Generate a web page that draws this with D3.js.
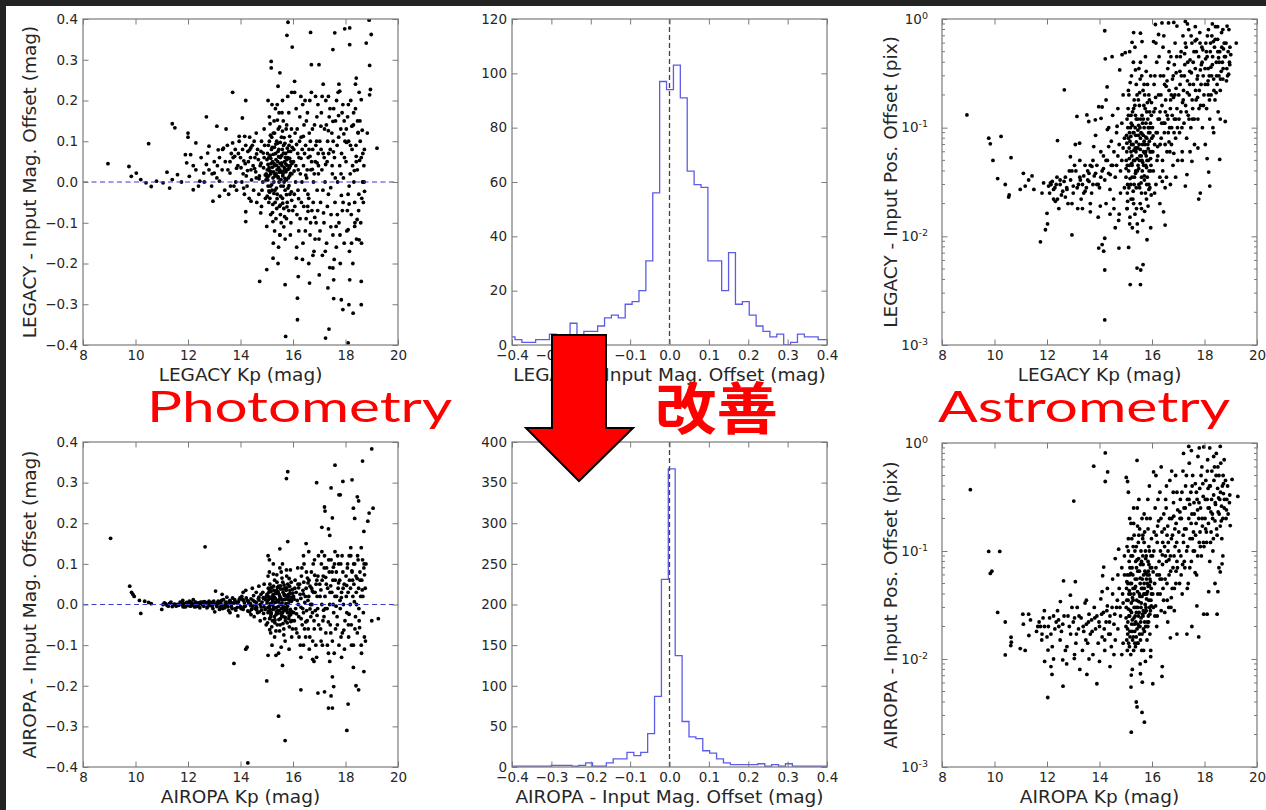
<!DOCTYPE html>
<html><head><meta charset="utf-8">
<script src="https://cdn.jsdelivr.net/npm/d3@7"></script>
<style>body{margin:0;background:#fff;overflow:hidden}svg{display:block}</style>
</head><body>
<script>
// ---------------- DATA ----------------
const kpTicks=[8,10,12,14,16,18,20];
const magTicks=[-0.4,-0.3,-0.2,-0.1,0,0.1,0.2,0.3,0.4];
const legacyCountTicks=[0,20,40,60,80,100,120];
const airopaCountTicks=[0,50,100,150,200,250,300,350,400];
const posTicks=[0.001,0.01,0.1,1];
const histBinWidth=0.0175;
const legacyHistStart=-0.41;
const airopaHistStart=-0.4055;
const legacyHistCounts=[3,2,1,1,2,2,4,3,2,8,1,5,5,7,10,11,10,15,16,20,31,56,97,94,103,91,64,59,58,31,31,20,34,15,16,11,7,5,3,4,0,1,4,3,3,2,2];
const airopaHistCounts=[1,1,1,1,1,1,2,2,2,1,2,5,1,1,5,10,10,18,14,18,41,87,231,367,137,56,37,35,20,17,10,5,3,3,3,3,4,1,3,1,4,1,1,1,1,1,1];
const redLabels=["Photometry","改善","Astrometry"];

const legacyMagPts=[
[8.95,0.045],[9.75,0.038],[9.84,0.014],[10.03,0.022],[10.2,0.006],[10.4,-0.002],[10.6,-0.011],[10.5,0.094],[10.8,0.002],[11.05,-0.002],[11.2,0.024],[11.4,0.143],[11.5,0.133],[11.3,-0.015],[11.4,0.006],[11.6,0.018],[11.75,0],[11.9,0.067],[12.0,0.12],[12.0,0.11],[11.95,0.047],[12.1,0.067],[12.05,0.014],[12.2,-0.019],[12.3,0.096],[12.3,0.03],[12.45,0.002],[12.6,0.022],[12.7,0.16],[12.7,0.043],[12.75,0.071],[12.8,0.088],[12.95,-0.047],[13.0,0.022],[13.1,0.137],[13.15,0.079],[13.2,0.002],[13.2,-0.035],[13.35,0.083],[13.45,0.13],[13.6,0.022],[13.7,0.22],[13.7,0.096],[13.78,0.063],[13.85,0.034],[13.95,0.112],[14.07,0.157],[14.16,0.112],[14.2,0.2],[14.2,-0.073],[14.2,-0.097],[14.35,0.079],[14.4,-0.047],[14.73,-0.244],[14.77,-0.076],[15.0,-0.215],[15.0,-0.109],[15.17,0.296],[15.17,0.28],[15.24,-0.187],[15.43,-0.2],[15.43,0.235],[15.5,0.268],[15.5,-0.13],[15.7,-0.252],[15.72,-0.379],[15.77,0.36],[15.81,0.392],[15.97,0.331],[16.06,0.247],[16.13,-0.187],[16.17,-0.285],[16.17,-0.338],[16.2,-0.232],[16.67,0.367],[16.6,-0.2],[16.63,-0.248],[16.7,0.288],[16.99,0.288],[17.0,-0.228],[17.24,-0.383],[17.33,-0.26],[17.37,-0.361],[17.52,0.149],[17.59,0.366],[17.52,0.325],[17.52,-0.211],[17.55,-0.286],[17.78,0.223],[17.84,-0.289],[17.9,-0.313],[17.97,0.376],[18.16,0.378],[18.16,0.337],[18.1,-0.395],[18.13,-0.301],[18.16,-0.24],[18.29,-0.322],[18.41,0.255],[18.41,0.063],[18.48,0.122],[18.6,-0.301],[18.6,-0.244],[18.6,0.202],[18.79,0.341],[18.9,0.397],[18.92,0.214],[18.98,0.362],[18.92,0.286],[18.83,0.12],[18.95,0.227],[19.2,0.083],[18.52,-0.142],[18.35,-0.109],[18.1,-0.117],
[15.02,0.03],[15.05,-0.01],[15.08,0.06],[15.1,0.1],[15.12,-0.04],[15.15,0.02],[15.18,0.08],[15.2,-0.02],[15.22,0.05],[15.25,0.12],[15.27,0.0],[15.3,0.04],[15.32,-0.05],[15.34,0.07],[15.36,0.02],[15.38,0.1],[15.4,-0.03],[15.42,0.05],[15.44,0.01],[15.46,0.08],[15.48,-0.06],[15.5,0.03],[15.52,0.06],[15.54,-0.01],[15.56,0.11],[15.58,0.04],[15.6,-0.04],[15.62,0.02],[15.64,0.09],[15.66,0.0],[15.68,0.05],[15.7,-0.02],[15.72,0.07],[15.74,0.13],[15.76,0.03],[15.78,-0.05],[15.8,0.06],[15.82,0.01],[15.85,0.09],[15.88,-0.03],[15.9,0.04],[15.93,0.1],[15.96,0.02],[15.99,-0.07],
[15.03,0.07],[15.07,0.015],[15.11,-0.025],[15.16,0.045],[15.19,0.11],[15.23,-0.055],[15.26,0.025],[15.29,0.085],[15.33,0.015],[15.37,-0.015],[15.41,0.095],[15.45,0.035],[15.49,0.135],[15.53,-0.035],[15.57,0.065],[15.61,0.015],[15.65,-0.065],[15.69,0.095],[15.73,0.025],[15.77,0.055],[15.81,-0.015],[15.86,0.035],[15.91,0.075],[15.95,-0.045],
[15.15,-0.08],[15.28,0.15],[15.35,-0.09],[15.47,0.17],[15.55,-0.1],[15.63,0.15],[15.75,-0.09],[15.84,0.17],[15.92,-0.1],[15.2,0.19],[15.4,0.19],[15.6,0.2],[15.3,-0.12],[15.5,-0.13],[15.7,-0.14],
[15.01,0.055],[15.04,0.005],[15.06,0.09],[15.09,0.035],[15.13,0.065],[15.14,-0.01],[15.17,0.025],[15.21,0.085],[15.24,0.01],[15.28,0.045],[15.31,-0.02],[15.35,0.055],[15.39,0.03],[15.43,0.075],[15.47,0.0],[15.51,0.045],[15.55,0.025],[15.59,0.08],[15.63,-0.01],[15.67,0.035],[15.71,0.06],[15.75,0.005],[15.79,0.04],[15.83,0.075],[15.87,0.015],[15.92,0.05],[15.97,0.085],
[15.02,-0.035],[15.08,-0.05],[15.14,0.115],[15.22,-0.075],[15.3,0.12],[15.38,-0.065],[15.44,0.13],[15.52,-0.08],[15.6,0.125],[15.68,-0.085],[15.76,0.14],[15.84,-0.07],[15.94,0.13],
[15.1,0.16],[15.33,0.18],[15.58,0.17],[15.8,0.21],[15.25,-0.15],[15.45,-0.16],[15.65,-0.11],[15.9,-0.13],[15.05,0.2],[15.95,0.22],
[15.013,0.012],[15.047,0.043],[15.083,-0.022],[15.118,0.027],[15.152,0.058],[15.187,-0.007],[15.213,0.036],[15.248,0.068],[15.274,-0.028],[15.309,0.019],[15.343,0.093],[15.368,0.041],[15.394,-0.041],[15.427,0.013],[15.453,0.062],[15.486,0.024],[15.517,0.097],[15.542,0.006],[15.573,0.047],[15.608,-0.052],[15.636,0.071],[15.661,0.028],[15.694,0.009],[15.727,0.044],[15.752,-0.031],[15.784,0.083],[15.816,0.031],[15.847,-0.009],[15.873,0.058],[15.906,0.021],[15.938,-0.024],[15.967,0.046],[15.126,0.143],[15.407,0.152],[15.661,0.109],[15.873,0.112],[15.234,-0.097],[15.512,-0.057],[15.769,-0.061],
[14.0,0.06],[14.1,0.02],[14.2,0.09],[14.25,-0.01],[14.3,0.05],[14.4,0.03],[14.45,0.09],[14.5,-0.02],[14.55,0.06],[14.6,0.01],[14.65,0.08],[14.7,-0.03],[14.75,0.04],[14.8,0.1],[14.85,0.0],[14.9,0.06],[14.95,-0.04],[14.98,0.02],[14.15,-0.03],[14.35,0.11],[14.6,0.12],[14.8,-0.06],[14.9,0.13],[13.9,0.04],[13.8,0.08],[13.75,-0.01],[13.6,0.05],[13.5,0.09],[13.4,-0.02],[13.3,0.03],[13.2,0.06],[13.1,0.01],[13.0,0.05],[12.9,-0.01],[12.8,0.03],[12.5,0.06],[12.4,-0.01],[13.55,-0.03],[13.65,0.07],[13.85,-0.02],[14.05,0.0],[13.95,0.1],
[14.02,0.035],[14.08,0.08],[14.12,-0.015],[14.18,0.045],[14.22,0.015],[14.28,0.075],[14.33,-0.04],[14.38,0.06],[14.42,0.005],[14.48,0.04],[14.52,0.1],[14.58,0.025],[14.62,-0.05],[14.68,0.055],[14.72,0.015],[14.78,0.075],[14.82,-0.02],[14.88,0.035],[14.92,0.09],[14.97,0.005],[13.52,0.03],[13.62,-0.01],[13.72,0.06],[13.82,0.0],[13.92,0.07],[13.42,0.05],[13.32,0.08],[13.12,0.04],[12.92,0.02],[12.62,0.0],[12.2,0.04],
[14.537,0.033],[14.613,0.069],[14.706,0.008],[14.784,0.046],[14.867,0.071],[14.943,0.017],[14.127,0.052],[14.268,0.028],[14.394,0.084],
[16.02,0.05],[16.05,-0.03],[16.08,0.12],[16.1,0.0],[16.12,0.18],[16.15,-0.08],[16.18,0.07],[16.2,0.03],[16.22,-0.12],[16.25,0.1],[16.28,0.02],[16.3,0.21],[16.32,-0.05],[16.35,0.08],[16.38,-0.15],[16.4,0.04],[16.42,0.14],[16.45,-0.02],[16.48,0.09],[16.5,-0.09],[16.52,0.01],[16.55,0.17],[16.58,0.06],[16.6,-0.04],[16.62,0.12],[16.65,-0.13],[16.68,0.03],[16.7,0.22],[16.72,-0.07],[16.75,0.08],[16.78,0.0],[16.8,-0.17],[16.82,0.14],[16.85,0.05],[16.88,-0.1],[16.9,0.1],[16.92,-0.02],[16.95,0.19],[16.97,0.02],[16.99,-0.14],[16.06,0.22],[16.14,-0.16],[16.26,0.16],[16.36,-0.19],[16.46,0.2],[16.56,-0.06],[16.66,0.1],[16.76,-0.18],[16.86,0.21],[16.96,0.07],
[16.03,0.08],[16.07,-0.06],[16.11,0.04],[16.16,0.13],[16.19,-0.02],[16.23,0.06],[16.27,-0.09],[16.31,0.11],[16.34,0.0],[16.37,0.19],[16.41,-0.06],[16.44,0.07],[16.47,-0.12],[16.51,0.15],[16.54,0.03],[16.57,-0.03],[16.61,0.08],[16.64,0.2],[16.67,-0.1],[16.71,0.05],[16.74,0.13],[16.77,-0.05],[16.81,0.02],[16.84,-0.14],[16.87,0.09],[16.91,0.16],[16.94,-0.07],[16.97,0.04],
[16.043,0.027],[16.137,0.092],[16.214,-0.041],[16.306,0.058],[16.393,0.112],[16.487,0.017],[16.573,-0.072],[16.648,0.063],[16.736,0.031],[16.829,-0.087],[16.917,0.047],
[17.02,0.1],[17.05,-0.05],[17.08,0.17],[17.1,0.03],[17.12,-0.18],[17.15,0.07],[17.18,-0.1],[17.2,0.13],[17.22,0.0],[17.25,0.2],[17.28,-0.15],[17.3,0.05],[17.32,0.1],[17.35,-0.03],[17.38,0.16],[17.4,-0.21],[17.42,0.08],[17.45,-0.08],[17.48,0.12],[17.5,0.02],[17.52,-0.13],[17.55,0.18],[17.58,0.06],[17.6,-0.05],[17.62,0.15],[17.65,-0.16],[17.68,0.09],[17.7,0.0],[17.72,0.22],[17.75,-0.1],[17.78,0.04],[17.8,-0.2],[17.82,0.13],[17.85,0.07],[17.88,-0.07],[17.9,0.19],[17.92,0.01],[17.95,-0.15],[17.98,0.1],[17.15,0.24],[17.35,0.21],[17.55,-0.24],[17.75,0.24],[17.95,0.15],
[17.03,-0.12],[17.07,0.08],[17.11,0.21],[17.14,-0.02],[17.19,0.06],[17.23,-0.17],[17.27,0.14],[17.31,-0.06],[17.36,0.07],[17.41,0.18],[17.44,-0.11],[17.49,0.04],[17.53,0.1],[17.57,-0.19],[17.61,0.01],[17.66,0.2],[17.69,-0.08],[17.74,0.11],[17.79,-0.13],[17.83,0.02],[17.87,0.17],[17.91,-0.05],[17.96,0.06],
[17.063,0.137],[17.164,-0.076],[17.243,0.043],[17.346,0.126],[17.437,-0.014],[17.538,0.074],[17.643,-0.109],[17.736,0.163],[17.843,-0.033],[17.937,0.118],
[18.02,0.05],[18.05,-0.12],[18.08,0.16],[18.1,-0.03],[18.12,0.1],[18.15,-0.17],[18.18,0.02],[18.2,0.2],[18.22,-0.08],[18.25,0.08],[18.28,-0.2],[18.3,0.14],[18.32,0.0],[18.35,-0.05],[18.38,0.18],[18.4,0.09],[18.42,-0.14],[18.45,0.03],[18.48,0.12],[18.5,-0.07],[18.55,0.15],[18.58,-0.1],[18.6,0.06],[18.62,-0.04],[18.65,0.0],[18.68,-0.05],[18.7,0.04],[18.72,0.08],[18.38,0.24],[18.52,0.22],
[18.03,0.13],[18.07,-0.07],[18.11,0.19],[18.14,-0.01],[18.19,0.09],[18.23,-0.15],[18.27,0.04],[18.31,0.17],[18.36,-0.1],[18.41,0.05],[18.46,0.15],[18.51,-0.03],[18.56,0.1],[18.61,-0.15],[18.66,0.07],[18.71,0.0],
[18.043,0.097],[18.137,-0.054],[18.243,0.137],[18.337,0.028],[18.443,-0.092],[18.536,0.053],[18.637,0.127],[18.724,-0.023]
];

const airopaMagPts=[
[9.05,0.163],[9.78,0.045],[9.85,0.03],[9.9,0.025],[9.95,0.02],[10.2,-0.022],[10.15,0.01],[10.35,0.008],[10.6,0.002],[10.5,0.005],[11.0,-0.012],[11.05,0.0],[11.1,0.004],[11.2,-0.002],[11.3,0.003],[11.4,-0.005],[11.5,0.001],[11.6,0.0],[11.7,0.006],[11.8,-0.003],[11.85,0.002],[11.9,-0.006],[11.95,0.005],[12.0,0.0],[12.05,0.008],[12.1,-0.004],[12.15,0.003],[12.2,0.0],[12.25,-0.006],[12.3,0.005],[12.35,-0.002],[12.4,0.004],[12.45,-0.008],[12.5,0.002],[12.55,0.006],[12.6,-0.004],[12.65,0.142],[12.7,0.003],[12.75,-0.006],[12.8,0.008],[12.85,-0.002],[12.9,0.005],[12.95,-0.01],[13.0,0.002],[13.05,0.033],[13.1,-0.005],[13.15,0.008],[13.2,-0.012],[13.25,0.004],[13.3,-0.002],[13.35,0.012],[13.4,-0.008],[13.45,0.006],[13.5,0.0],[13.55,-0.015],[13.6,0.01],[13.65,-0.004],[13.7,0.016],[13.75,-0.145],[13.8,-0.01],[13.85,0.006],[13.9,-0.028],[13.95,0.012],[14.0,-0.005],[14.05,0.02],[14.1,-0.012],[14.15,0.004],[14.2,-0.11],[14.25,-0.105],[14.28,-0.39],[14.3,0.008],[14.35,-0.018],[14.4,0.014],[14.45,-0.004],[14.5,0.022],[14.55,-0.01],[14.6,0.005],[14.65,-0.02],[14.7,0.018],[14.75,0.0],[14.8,-0.014],[14.85,0.03],[14.9,-0.006],[14.95,0.012],[14.1,0.03],[13.3,0.025],[12.2,0.012],[11.8,0.01],[13.6,-0.02],[14.6,0.03],[14.4,-0.025],
[11.55,-0.004],[11.75,0.003],[12.12,0.006],[12.38,-0.004],[12.62,0.007],[12.88,0.001],[13.12,0.004],[13.38,-0.003],[13.62,0.005],[13.88,-0.007],[14.12,0.01],[14.38,0.002],[14.62,-0.008],[14.88,0.015],[13.02,-0.018],[13.48,0.018],[13.98,0.016],[14.52,-0.03],[14.78,0.025],[14.92,-0.035],
[11.15,0.002],[11.25,-0.004],[11.35,0.006],[11.45,0.0],[11.65,-0.002],[11.72,0.004],[11.82,-0.006],[11.92,0.003],[12.02,-0.003],[12.08,0.004],[12.18,-0.002],[12.28,0.006],[12.32,-0.005],[12.42,0.002],[12.48,0.006],[12.58,-0.002],[12.68,0.005],[12.72,-0.008],[12.82,0.004],[12.92,-0.004],[12.98,0.008],[13.08,0.0],[13.18,0.006],[13.22,-0.006],[13.28,0.01],[13.32,-0.01],[13.42,0.004],[13.52,-0.006],[13.58,0.008],[13.68,-0.01],[13.72,0.004],[13.78,0.012],[13.82,-0.014],[13.92,0.006],[14.02,-0.01],[14.08,0.012],[14.18,-0.004],[14.22,0.016],[14.28,-0.016],[14.32,0.002],[14.42,-0.012],[14.48,0.01],[14.58,-0.002],[14.68,0.014],[14.72,-0.018],[14.82,0.006],[14.88,-0.022],[14.98,0.02],[14.45,0.04],[14.7,0.045],[14.9,0.05],[14.98,-0.05],[14.2,0.035],[14.75,-0.04],
[14.537,0.007],[14.613,-0.013],[14.706,0.011],[14.784,-0.006],[14.867,0.017],[14.943,-0.012],[14.127,-0.006],[14.268,0.009],[14.394,-0.003],[13.764,0.004],[13.447,-0.003],[13.156,0.002],[12.834,-0.001],[12.537,0.001],[12.243,-0.001],[11.964,0.002],
[15.05,0.12],[15.1,0.11],[15.05,-0.125],[15.0,-0.188],[15.35,-0.125],[15.45,-0.275],[15.5,0.137],[15.6,-0.15],[15.7,-0.335],[15.75,0.31],[15.8,0.327],[15.8,0.155],[15.55,-0.105],[15.25,0.1],
[16.3,-0.21],[16.4,0.12],[16.5,0.15],[16.75,-0.135],[16.9,0.3],[16.95,-0.218],[17.2,-0.215],[17.1,0.19],[17.2,0.24],[17.22,0.23],[17.35,0.186],[17.4,0.17],[17.35,-0.255],[17.5,-0.255],[17.45,-0.225],[17.5,-0.178],[17.55,-0.202],[17.5,0.213],[17.45,0.287],[17.6,0.343],[17.8,0.27],[17.75,0.27],[17.9,0.303],[18.05,-0.31],[18.1,-0.245],[18.25,0.307],[18.3,0.237],[18.35,0.212],[18.45,0.265],[18.5,0.255],[18.65,0.353],[18.7,0.18],[18.85,0.205],[18.9,0.225],[19.05,0.237],[19.0,0.383],[18.4,-0.2],[18.5,-0.21],[18.7,-0.165],[19.0,-0.04],[19.25,-0.035],[18.3,-0.155],
[15.02,0.01],[15.05,-0.02],[15.08,0.03],[15.1,-0.005],[15.12,0.05],[15.15,-0.03],[15.18,0.015],[15.2,0.0],[15.22,-0.04],[15.25,0.025],[15.28,-0.01],[15.3,0.06],[15.32,0.005],[15.35,-0.025],[15.38,0.035],[15.4,-0.05],[15.42,0.01],[15.45,0.045],[15.48,-0.015],[15.5,0.02],[15.52,-0.035],[15.55,0.0],[15.58,0.065],[15.6,-0.02],[15.62,0.03],[15.65,-0.06],[15.68,0.012],[15.7,0.04],[15.72,-0.008],[15.75,0.022],[15.78,-0.045],[15.8,0.05],[15.82,0.003],[15.85,-0.028],[15.88,0.035],[15.9,-0.012],[15.93,0.018],[15.96,-0.04],[15.99,0.028],
[15.03,-0.045],[15.06,0.04],[15.09,0.018],[15.13,-0.012],[15.16,0.032],[15.19,-0.055],[15.23,0.008],[15.26,0.045],[15.29,-0.03],[15.33,0.015],[15.36,-0.008],[15.39,0.055],[15.43,-0.022],[15.46,0.006],[15.49,-0.065],[15.53,0.038],[15.56,-0.01],[15.59,0.012],[15.63,-0.03],[15.66,0.048],[15.69,-0.015],[15.73,0.002],[15.76,0.07],[15.79,-0.02],[15.83,0.025],[15.86,-0.055],[15.89,0.01],[15.93,0.055],[15.97,-0.018],
[15.01,0.025],[15.04,-0.008],[15.07,0.012],[15.11,-0.035],[15.14,0.04],[15.17,-0.02],[15.21,0.02],[15.24,-0.012],[15.27,0.035],[15.31,-0.045],[15.34,0.028],[15.37,-0.018],[15.41,0.042],[15.44,-0.005],[15.47,0.025],[15.51,-0.05],[15.54,0.015],[15.57,-0.028],[15.61,0.055],[15.64,-0.006],[15.67,0.025],[15.71,-0.04],[15.74,0.035],[15.77,-0.012],[15.81,0.02],[15.84,-0.035],[15.87,0.045],[15.91,-0.025],[15.94,0.008],[15.98,-0.06],
[15.014,0.004],[15.043,0.021],[15.072,-0.017],[15.103,0.033],[15.137,0.002],[15.164,-0.024],[15.193,0.042],[15.227,0.011],[15.256,-0.006],[15.284,0.018],[15.313,-0.038],[15.347,0.027],[15.372,0.007],[15.404,-0.016],[15.436,0.031],[15.463,-0.037],[15.494,0.013],[15.527,0.046],[15.553,-0.022],[15.584,0.004],[15.617,0.038],[15.646,-0.013],[15.673,0.022],[15.706,-0.032],[15.733,0.014],[15.763,0.041],[15.792,-0.004],[15.824,0.012],[15.856,-0.019],[15.884,0.027],[15.917,-0.042],[15.946,0.016],[15.974,0.037],[15.113,-0.062],[15.383,0.073],[15.617,-0.047],[15.853,0.064],
[15.05,0.07],[15.15,-0.07],[15.25,0.075],[15.35,-0.065],[15.55,0.08],[15.65,-0.075],[15.75,0.085],[15.95,-0.08],
[15.1,0.08],[15.3,-0.08],[15.5,0.09],[15.7,-0.09],[15.9,0.085],[15.2,-0.1],[15.45,-0.12],[15.6,0.1],[15.85,-0.11],
[16.02,0.02],[16.05,-0.04],[16.08,0.06],[16.1,-0.01],[16.12,0.03],[16.15,-0.07],[16.18,0.09],[16.2,0.0],[16.22,-0.03],[16.25,0.05],[16.28,-0.1],[16.3,0.015],[16.32,0.07],[16.35,-0.05],[16.38,0.035],[16.4,-0.02],[16.42,0.1],[16.45,0.005],[16.48,-0.08],[16.5,0.04],[16.52,-0.015],[16.55,0.065],[16.58,-0.06],[16.6,0.02],[16.62,-0.11],[16.65,0.045],[16.68,-0.03],[16.7,0.08],[16.72,0.0],[16.75,-0.09],[16.78,0.03],[16.8,-0.04],[16.82,0.11],[16.85,-0.015],[16.88,0.05],[16.9,-0.13],[16.92,0.02],[16.95,0.07],[16.98,-0.05],[16.3,-0.13],[16.6,0.13],[16.8,-0.14],[16.4,-0.1],
[16.03,-0.02],[16.07,0.04],[16.11,-0.06],[16.16,0.01],[16.19,0.05],[16.23,-0.08],[16.27,0.025],[16.31,-0.035],[16.34,0.09],[16.37,-0.01],[16.41,0.055],[16.44,-0.06],[16.47,0.02],[16.51,0.08],[16.54,-0.04],[16.57,0.01],[16.61,0.06],[16.64,-0.08],[16.67,0.0],[16.71,0.04],[16.74,-0.02],[16.77,0.1],[16.81,-0.06],[16.84,0.03],[16.87,-0.1],[16.91,0.06],[16.94,-0.01],[16.97,0.12],
[16.043,0.013],[16.137,-0.023],[16.214,0.041],[16.306,-0.007],[16.393,0.026],[16.487,-0.043],[16.573,0.053],[16.648,-0.011],[16.736,0.033],[16.829,0.072],[16.917,-0.027],
[17.02,0.05],[17.05,-0.06],[17.08,0.1],[17.1,0.0],[17.12,-0.1],[17.15,0.07],[17.18,-0.03],[17.2,0.12],[17.22,0.02],[17.25,-0.07],[17.28,0.09],[17.3,-0.01],[17.32,0.04],[17.35,-0.12],[17.38,0.08],[17.4,0.0],[17.42,-0.05],[17.45,0.11],[17.48,0.03],[17.5,-0.09],[17.52,0.06],[17.55,-0.02],[17.58,0.1],[17.6,0.02],[17.62,-0.06],[17.65,0.08],[17.68,-0.03],[17.7,0.12],[17.72,0.04],[17.75,-0.1],[17.78,0.06],[17.8,-0.01],[17.82,0.1],[17.85,0.03],[17.88,-0.07],[17.9,0.08],[17.92,0.0],[17.95,0.05],[17.98,-0.04],[17.1,0.13],[17.4,-0.14],[17.6,0.13],[17.85,-0.13],
[17.03,0.02],[17.07,-0.09],[17.11,0.06],[17.14,-0.04],[17.19,0.09],[17.23,-0.01],[17.27,0.05],[17.31,-0.1],[17.36,0.11],[17.41,0.03],[17.44,-0.07],[17.49,0.08],[17.53,0.0],[17.57,-0.12],[17.61,0.06],[17.66,0.02],[17.69,-0.05],[17.74,0.1],[17.79,0.01],[17.83,-0.08],[17.87,0.12],[17.91,0.04],[17.96,-0.11],
[17.063,0.036],[17.164,-0.014],[17.243,0.067],[17.346,-0.043],[17.437,0.046],[17.538,0.092],[17.643,-0.004],[17.736,0.053],[17.843,0.017],[17.937,-0.063],
[18.02,0.07],[18.05,-0.02],[18.08,0.1],[18.1,0.03],[18.12,-0.08],[18.15,0.06],[18.18,0.0],[18.2,0.12],[18.22,-0.05],[18.25,0.08],[18.28,0.02],[18.3,-0.1],[18.32,0.05],[18.35,0.1],[18.38,-0.03],[18.4,0.07],[18.42,0.0],[18.45,-0.07],[18.48,0.11],[18.5,0.04],[18.52,-0.04],[18.55,0.08],[18.58,0.02],[18.6,-0.1],[18.62,0.06],[18.65,0.11],[18.68,-0.02],[18.7,0.09],[18.72,-0.08],[18.75,0.04],[18.78,0.1],[18.2,0.14],[18.6,0.14],
[18.03,0.02],[18.07,0.09],[18.11,-0.05],[18.14,0.12],[18.19,0.04],[18.23,-0.1],[18.27,0.06],[18.31,0.1],[18.36,-0.06],[18.41,0.03],[18.46,0.12],[18.51,-0.01],[18.56,0.06],[18.61,-0.12],[18.66,0.02],[18.71,0.1],[18.76,-0.09],
[18.043,0.047],[18.137,-0.024],[18.243,0.083],[18.337,0.007],[18.443,0.064],[18.536,-0.057],[18.637,0.036],[18.724,0.073]
];

const legacyPosPts=[
[8.95,0.131],[9.78,0.08],[9.84,0.071],[9.94,0.05],[10.25,0.083],[10.12,0.034],[10.41,0.03],[10.54,0.023],[10.56,0.024],[10.63,0.053],[10.98,0.027],[11.1,0.038],[11.17,0.029],[11.3,0.033],[11.43,0.036],[11.5,0.027],[11.75,0.0089],[11.81,0.025],[11.87,0.031],[11.94,0.0115],[12.0,0.0163],[12.02,0.013],[12.06,0.029],[12.13,0.031],[12.25,0.027],[12.32,0.021],[12.38,0.035],[12.5,0.033],[12.4,0.076],[12.66,0.223],[12.7,0.023],[12.76,0.027],[12.89,0.054],[12.95,0.0103],[13.0,0.029],[13.08,0.07],[13.14,0.127],[13.17,0.018],[13.24,0.072],[13.27,0.033],[13.4,0.025],[13.52,0.131],[13.59,0.114],[13.6,0.038],[13.65,0.0168],[13.71,0.044],[13.78,0.067],[13.84,0.118],[13.9,0.03],[13.97,0.156],[13.97,0.0078],[14.03,0.019],[14.06,0.122],[14.1,0.155],[14.1,0.0084],[14.16,0.0073],[14.2,0.0096],[14.2,0.0049],[14.2,0.0017],[14.2,0.78],[14.22,0.43],[14.25,0.18],[14.29,0.237],[14.3,0.096],[14.35,0.067],[14.41,0.037],[14.48,0.45],[14.54,0.022],[14.67,0.103],[14.73,0.014],[14.74,0.0078],[14.77,0.34],[14.86,0.47],[14.98,0.49],[15.05,0.018],[15.11,0.0079],[15.17,0.0036],[15.24,0.61],[15.3,0.75],[15.37,0.34],[15.43,0.0051],[15.56,0.0036],[15.57,0.0049],[15.66,0.0055],[15.56,0.74],[15.62,0.62],[15.81,0.0093],[16.13,0.89],[16.06,0.62],[16.25,0.72],[16.38,0.92],[16.5,0.0127],[16.44,0.0168],[16.63,0.92],[16.83,0.93],[16.95,0.86],[17.27,0.95],[17.27,0.029],[17.33,0.037],[17.52,0.049],[17.78,0.022],[17.84,0.025],[18.03,0.07],[18.1,0.052],[18.16,0.039],[18.2,0.029],[18.58,0.051],[18.79,0.114],[18.92,0.31],[19.21,0.6],[18.86,0.86],
[12.1,0.025],[12.2,0.032],[12.3,0.028],[12.4,0.022],[12.5,0.03],[12.6,0.026],[12.7,0.035],[12.8,0.02],[12.9,0.033],[13.0,0.025],[13.1,0.04],[13.2,0.03],[13.3,0.022],[13.4,0.036],[13.45,0.045],[13.5,0.028],[13.55,0.04],[13.6,0.032],[13.7,0.025],[13.75,0.05],[13.8,0.036],[13.9,0.045],[14.0,0.028],[14.05,0.06],[14.1,0.04],[14.2,0.033],[14.3,0.05],[14.4,0.027],[14.45,0.075],[14.5,0.045],[14.6,0.035],[14.65,0.09],[14.7,0.055],[14.8,0.04],[14.85,0.11],[14.9,0.065],[14.95,0.028],[13.35,0.018],[13.65,0.02],[13.95,0.015],[14.25,0.02],[14.55,0.018],[14.75,0.016],[13.05,0.045],[12.95,0.02],[12.45,0.018],[12.85,0.04],[13.25,0.05],[13.85,0.085],[14.35,0.1],[14.15,0.055],
[12.15,0.03],[12.25,0.022],[12.35,0.03],[12.55,0.024],[12.65,0.032],[12.75,0.028],[12.95,0.04],[13.15,0.028],[13.25,0.035],[13.35,0.03],[13.45,0.026],[13.55,0.033],[13.65,0.045],[13.75,0.03],[13.85,0.038],[13.95,0.03],[14.05,0.035],[14.15,0.042],[14.25,0.05],[14.35,0.038],[14.45,0.045],[14.55,0.06],[14.65,0.045],[14.75,0.07],[14.85,0.05],[14.95,0.08],[14.5,0.13],[14.7,0.15],[14.9,0.2],[14.4,0.016],[14.6,0.012],[14.8,0.025],
[15.02,0.05],[15.05,0.12],[15.07,0.03],[15.1,0.08],[15.12,0.2],[15.14,0.045],[15.16,0.015],[15.18,0.1],[15.2,0.06],[15.22,0.3],[15.24,0.035],[15.26,0.14],[15.28,0.07],[15.3,0.02],[15.32,0.18],[15.34,0.05],[15.36,0.1],[15.38,0.04],[15.4,0.25],[15.42,0.065],[15.44,0.013],[15.46,0.12],[15.48,0.085],[15.5,0.03],[15.52,0.16],[15.54,0.055],[15.56,0.4],[15.58,0.09],[15.6,0.025],[15.62,0.13],[15.64,0.07],[15.66,0.22],[15.68,0.045],[15.7,0.1],[15.72,0.017],[15.74,0.15],[15.76,0.06],[15.78,0.33],[15.8,0.08],[15.82,0.035],[15.84,0.12],[15.86,0.05],[15.88,0.2],[15.9,0.075],[15.92,0.028],[15.94,0.11],[15.96,0.045],[15.98,0.17],
[15.03,0.085],[15.06,0.025],[15.09,0.15],[15.11,0.04],[15.13,0.065],[15.17,0.26],[15.19,0.03],[15.21,0.11],[15.23,0.055],[15.27,0.022],[15.29,0.4],[15.31,0.09],[15.33,0.035],[15.37,0.13],[15.39,0.06],[15.41,0.018],[15.43,0.2],[15.47,0.045],[15.49,0.105],[15.51,0.07],[15.53,0.028],[15.57,0.12],[15.59,0.055],[15.61,0.3],[15.63,0.04],[15.67,0.085],[15.69,0.16],[15.71,0.033],[15.73,0.07],[15.77,0.11],[15.79,0.022],[15.81,0.05],[15.83,0.25],[15.87,0.09],[15.89,0.04],[15.91,0.14],[15.93,0.06],[15.97,0.024],[15.99,0.08],
[15.15,0.5],[15.35,0.55],[15.55,0.28],[15.75,0.45],[15.95,0.3],[15.25,0.012],[15.45,0.011],[15.65,0.014],[15.85,0.019],[15.05,0.018],[15.15,0.013],[15.35,0.016],[15.55,0.02],[15.75,0.025],[15.95,0.012],
[15.01,0.035],[15.04,0.06],[15.08,0.1],[15.12,0.028],[15.16,0.075],[15.2,0.13],[15.24,0.045],[15.28,0.09],[15.32,0.03],[15.36,0.065],[15.4,0.12],[15.44,0.04],[15.48,0.18],[15.52,0.05],[15.56,0.08],[15.6,0.035],[15.64,0.11],[15.68,0.06],[15.72,0.2],[15.76,0.045],[15.8,0.14],[15.84,0.07],[15.88,0.03],[15.92,0.09],[15.96,0.06],
[15.06,0.045],[15.14,0.09],[15.22,0.07],[15.3,0.05],[15.38,0.085],[15.46,0.065],[15.54,0.1],[15.62,0.05],[15.7,0.075],[15.78,0.055],[15.86,0.1],[15.94,0.04],
[15.1,0.22],[15.3,0.15],[15.5,0.35],[15.7,0.25],[15.9,0.18],[15.2,0.022],[15.4,0.028],[15.6,0.018],[15.8,0.03],
[15.014,0.042],[15.043,0.072],[15.072,0.021],[15.103,0.13],[15.137,0.052],[15.164,0.034],[15.193,0.083],[15.227,0.047],[15.256,0.105],[15.284,0.026],[15.313,0.062],[15.347,0.16],[15.372,0.038],[15.404,0.074],[15.436,0.052],[15.463,0.095],[15.494,0.042],[15.527,0.21],[15.553,0.063],[15.584,0.031],[15.617,0.088],[15.646,0.048],[15.673,0.12],[15.706,0.036],[15.733,0.058],[15.763,0.082],[15.792,0.043],[15.824,0.17],[15.856,0.064],[15.884,0.027],[15.917,0.1],[15.946,0.052],[15.974,0.13],
[16.02,0.1],[16.05,0.04],[16.08,0.25],[16.1,0.07],[16.12,0.15],[16.15,0.03],[16.18,0.4],[16.2,0.09],[16.22,0.055],[16.25,0.2],[16.28,0.12],[16.3,0.035],[16.32,0.3],[16.35,0.08],[16.38,0.16],[16.4,0.05],[16.42,0.55],[16.45,0.11],[16.48,0.25],[16.5,0.07],[16.52,0.18],[16.55,0.035],[16.58,0.13],[16.6,0.35],[16.62,0.09],[16.65,0.22],[16.68,0.06],[16.7,0.15],[16.72,0.45],[16.75,0.1],[16.78,0.28],[16.8,0.045],[16.82,0.19],[16.85,0.12],[16.88,0.6],[16.9,0.08],[16.92,0.32],[16.95,0.15],[16.98,0.05],[16.1,0.025],[16.3,0.02],[16.5,0.028],[16.7,0.03],[16.9,0.035],[16.15,0.6],[16.45,0.7],[16.65,0.5],[16.85,0.38],
[16.03,0.06],[16.07,0.14],[16.11,0.3],[16.16,0.09],[16.19,0.05],[16.23,0.12],[16.27,0.45],[16.31,0.07],[16.34,0.2],[16.37,0.11],[16.41,0.04],[16.44,0.3],[16.47,0.09],[16.51,0.14],[16.54,0.24],[16.57,0.06],[16.61,0.12],[16.64,0.4],[16.67,0.1],[16.71,0.18],[16.74,0.07],[16.77,0.13],[16.81,0.3],[16.84,0.09],[16.87,0.2],[16.91,0.12],[16.94,0.45],[16.97,0.1],
[16.043,0.084],[16.137,0.19],[16.214,0.067],[16.306,0.14],[16.393,0.032],[16.487,0.11],[16.573,0.27],[16.648,0.074],[16.736,0.2],[16.829,0.058],[16.917,0.23],
[17.02,0.2],[17.05,0.09],[17.08,0.45],[17.1,0.14],[17.12,0.3],[17.15,0.06],[17.18,0.7],[17.2,0.22],[17.22,0.11],[17.25,0.38],[17.28,0.16],[17.3,0.55],[17.32,0.08],[17.35,0.27],[17.38,0.13],[17.4,0.8],[17.42,0.2],[17.45,0.42],[17.48,0.1],[17.5,0.32],[17.52,0.6],[17.55,0.15],[17.58,0.25],[17.6,0.5],[17.62,0.07],[17.65,0.35],[17.68,0.18],[17.7,0.65],[17.72,0.28],[17.75,0.12],[17.78,0.45],[17.8,0.22],[17.82,0.75],[17.85,0.16],[17.88,0.38],[17.9,0.55],[17.92,0.1],[17.95,0.3],[17.98,0.2],[17.15,0.05],[17.45,0.06],[17.75,0.065],[17.35,0.9],[17.65,0.85],
[17.03,0.12],[17.07,0.25],[17.11,0.5],[17.14,0.1],[17.19,0.18],[17.23,0.3],[17.27,0.6],[17.31,0.14],[17.36,0.4],[17.41,0.12],[17.44,0.25],[17.49,0.7],[17.53,0.18],[17.57,0.4],[17.61,0.12],[17.66,0.22],[17.69,0.5],[17.74,0.3],[17.79,0.15],[17.83,0.6],[17.87,0.25],[17.91,0.4],[17.96,0.16],
[17.063,0.33],[17.164,0.17],[17.243,0.48],[17.346,0.21],[17.437,0.33],[17.538,0.12],[17.643,0.63],[17.736,0.19],[17.843,0.34],[17.937,0.52],
[18.02,0.35],[18.05,0.6],[18.08,0.15],[18.1,0.45],[18.12,0.25],[18.15,0.8],[18.18,0.3],[18.2,0.12],[18.22,0.5],[18.25,0.2],[18.28,0.7],[18.3,0.38],[18.32,0.1],[18.35,0.28],[18.38,0.55],[18.4,0.18],[18.42,0.85],[18.45,0.4],[18.48,0.25],[18.5,0.65],[18.52,0.14],[18.55,0.3],[18.58,0.5],[18.6,0.22],[18.65,0.75],[18.68,0.4],[18.7,0.28],[18.75,0.6],[18.8,0.45],[18.85,0.35],[18.9,0.5],[18.95,0.4],[19.0,0.47],[18.15,0.2],[18.35,0.09],[18.6,0.12],
[18.03,0.25],[18.07,0.5],[18.11,0.7],[18.14,0.35],[18.19,0.18],[18.23,0.6],[18.27,0.3],[18.31,0.45],[18.36,0.22],[18.41,0.65],[18.46,0.3],[18.51,0.5],[18.56,0.4],[18.61,0.28],[18.66,0.55],[18.71,0.35],[18.76,0.45],[18.82,0.6],[18.88,0.3],[18.93,0.8],[18.97,0.55],[18.3,0.9],[18.5,0.85],[18.7,0.8],
[18.043,0.43],[18.137,0.27],[18.243,0.36],[18.337,0.62],[18.443,0.21],[18.536,0.44],[18.637,0.33],[18.724,0.53],[18.836,0.27],[18.963,0.38]
];

const airopaPosPts=[
[9.08,0.37],[9.78,0.099],[10.2,0.099],[9.84,0.062],[9.9,0.065],[10.12,0.027],[10.41,0.022],[10.41,0.0109],[10.63,0.0159],[10.64,0.0143],[10.62,0.0133],[10.98,0.0125],[11.08,0.026],[11.1,0.021],[11.17,0.012],[11.3,0.026],[11.31,0.0165],[11.37,0.023],[11.75,0.02],[11.81,0.017],[11.9,0.028],[11.91,0.0095],[12.03,0.0044],[12.04,0.0121],[12.15,0.0085],[12.19,0.0072],[12.25,0.025],[12.44,0.023],[12.51,0.034],[12.6,0.0098],[12.63,0.053],[12.61,0.0056],[12.76,0.013],[12.89,0.039],[13.02,0.29],[13.08,0.052],[13.04,0.0101],[13.52,0.0072],[13.78,0.61],[13.9,0.0059],[14.16,0.071],[14.12,0.059],[14.22,0.81],[14.22,0.44],[14.31,0.54],[14.41,0.017],[14.73,0.104],[15.02,0.48],[15.07,0.44],[15.2,0.0055],[15.21,0.0071],[15.21,0.0021],[15.43,0.69],[15.4,0.004],[15.43,0.0036],[15.56,0.0073],[15.62,0.0032],[15.71,0.0026],[15.63,0.0061],[16.06,0.54],[16.03,0.0059],[16.38,0.0069],[16.39,0.0085],[16.7,0.0157],[16.95,0.017],[17.33,0.017],[17.52,0.02],[17.71,0.031],[17.78,0.016],[17.97,0.026],[18.1,0.026],[18.16,0.042],[18.48,0.026],[18.51,0.042],[18.6,0.064],[18.67,0.076],[19.05,0.46],[18.98,0.172],[19.27,0.32],[17.4,0.93],[17.97,0.92],[18.6,0.93],
[11.6,0.018],[11.7,0.022],[11.8,0.015],[11.9,0.02],[12.0,0.016],[12.1,0.024],[12.2,0.013],[12.3,0.019],[12.4,0.028],[12.5,0.015],[12.6,0.021],[12.7,0.012],[12.8,0.025],[12.9,0.017],[13.0,0.022],[13.1,0.014],[13.15,0.03],[13.2,0.019],[13.3,0.024],[13.35,0.012],[13.4,0.018],[13.45,0.033],[13.5,0.021],[13.55,0.014],[13.6,0.026],[13.65,0.017],[13.7,0.023],[13.75,0.011],[13.8,0.03],[13.85,0.019],[13.9,0.025],[13.95,0.014],[14.0,0.02],[14.05,0.036],[14.1,0.016],[14.15,0.027],[14.2,0.012],[14.25,0.022],[14.3,0.031],[14.35,0.017],[14.4,0.025],[14.45,0.013],[14.5,0.04],[14.55,0.021],[14.6,0.015],[14.65,0.03],[14.7,0.019],[14.75,0.045],[14.8,0.025],[14.85,0.011],[14.9,0.033],[14.95,0.06],[12.25,0.01],[12.75,0.009],[13.25,0.008],[13.6,0.01],[14.0,0.0095],[14.4,0.0085],[12.45,0.02],[12.95,0.03],[13.05,0.011],[13.5,0.035],[14.1,0.042],[14.5,0.055],[14.85,0.07],[14.6,0.085],
[11.65,0.02],[11.85,0.024],[12.05,0.02],[12.15,0.017],[12.35,0.022],[12.55,0.018],[12.65,0.025],[12.85,0.02],[13.05,0.024],[13.12,0.017],[13.22,0.025],[13.38,0.02],[13.48,0.015],[13.58,0.022],[13.72,0.018],[13.82,0.024],[13.98,0.022],[14.08,0.026],[14.18,0.019],[14.28,0.028],[14.38,0.022],[14.48,0.03],[14.58,0.026],[14.68,0.035],[14.78,0.03],[14.88,0.04],[14.3,0.045],[14.7,0.06],[14.95,0.09],[14.2,0.015],[14.55,0.011],[14.9,0.014],
[15.02,0.03],[15.04,0.015],[15.06,0.06],[15.08,0.022],[15.1,0.1],[15.12,0.04],[15.14,0.013],[15.16,0.07],[15.18,0.028],[15.2,0.18],[15.22,0.05],[15.24,0.018],[15.26,0.09],[15.28,0.035],[15.3,0.012],[15.32,0.14],[15.34,0.045],[15.36,0.025],[15.38,0.08],[15.4,0.016],[15.42,0.055],[15.44,0.25],[15.46,0.03],[15.48,0.12],[15.5,0.02],[15.52,0.065],[15.54,0.038],[15.56,0.015],[15.58,0.1],[15.6,0.045],[15.62,0.2],[15.64,0.026],[15.66,0.075],[15.68,0.012],[15.7,0.05],[15.72,0.15],[15.74,0.032],[15.76,0.02],[15.78,0.09],[15.8,0.04],[15.82,0.06],[15.84,0.3],[15.86,0.025],[15.88,0.11],[15.9,0.048],[15.92,0.017],[15.94,0.07],[15.96,0.035],[15.98,0.13],
[15.03,0.045],[15.05,0.11],[15.07,0.019],[15.09,0.035],[15.11,0.014],[15.13,0.08],[15.15,0.025],[15.17,0.05],[15.19,0.011],[15.21,0.033],[15.23,0.13],[15.25,0.023],[15.27,0.06],[15.29,0.016],[15.31,0.04],[15.33,0.021],[15.35,0.1],[15.37,0.013],[15.39,0.03],[15.41,0.07],[15.43,0.019],[15.45,0.042],[15.47,0.014],[15.49,0.085],[15.51,0.027],[15.53,0.16],[15.55,0.05],[15.57,0.022],[15.59,0.033],[15.61,0.012],[15.63,0.055],[15.65,0.09],[15.67,0.028],[15.69,0.04],[15.71,0.018],[15.73,0.065],[15.75,0.1],[15.77,0.03],[15.79,0.055],[15.81,0.015],[15.83,0.042],[15.85,0.08],[15.87,0.022],[15.89,0.06],[15.91,0.03],[15.93,0.2],[15.95,0.012],[15.97,0.045],[15.99,0.07],
[15.01,0.02],[15.04,0.035],[15.06,0.012],[15.08,0.05],[15.12,0.025],[15.14,0.06],[15.16,0.018],[15.18,0.04],[15.22,0.027],[15.24,0.07],[15.26,0.015],[15.28,0.045],[15.32,0.03],[15.34,0.018],[15.36,0.055],[15.38,0.022],[15.42,0.035],[15.44,0.014],[15.46,0.065],[15.48,0.025],[15.52,0.04],[15.54,0.02],[15.56,0.075],[15.58,0.03],[15.62,0.017],[15.64,0.045],[15.66,0.025],[15.68,0.06],[15.72,0.022],[15.74,0.04],[15.76,0.085],[15.78,0.028],[15.82,0.05],[15.84,0.02],[15.86,0.065],[15.88,0.035],[15.92,0.055],[15.94,0.028],[15.96,0.09],[15.98,0.04],
[15.014,0.024],[15.043,0.052],[15.072,0.017],[15.103,0.029],[15.137,0.043],[15.164,0.016],[15.193,0.062],[15.227,0.021],[15.256,0.037],[15.284,0.11],[15.313,0.024],[15.347,0.014],[15.372,0.047],[15.404,0.027],[15.436,0.083],[15.463,0.021],[15.494,0.034],[15.527,0.017],[15.553,0.056],[15.584,0.024],[15.617,0.038],[15.646,0.13],[15.673,0.019],[15.706,0.045],[15.733,0.027],[15.763,0.062],[15.792,0.036],[15.824,0.022],[15.856,0.047],[15.884,0.075],[15.917,0.026],[15.946,0.052],[15.974,0.031],
[15.1,0.35],[15.3,0.25],[15.5,0.3],[15.7,0.22],[15.9,0.4],[15.15,0.2],[15.45,0.17],[15.65,0.14],[15.85,0.16],[15.25,0.008],[15.55,0.009],[15.75,0.0095],[15.95,0.0105],
[15.1,0.13],[15.2,0.09],[15.3,0.18],[15.4,0.11],[15.5,0.14],[15.6,0.08],[15.7,0.12],[15.8,0.2],[15.9,0.1],
[16.02,0.09],[16.05,0.03],[16.08,0.15],[16.1,0.05],[16.12,0.25],[16.15,0.07],[16.18,0.02],[16.2,0.12],[16.22,0.04],[16.25,0.19],[16.28,0.06],[16.3,0.35],[16.32,0.1],[16.35,0.028],[16.38,0.15],[16.4,0.075],[16.42,0.045],[16.45,0.22],[16.48,0.11],[16.5,0.055],[16.52,0.3],[16.55,0.08],[16.58,0.035],[16.6,0.17],[16.62,0.12],[16.65,0.06],[16.68,0.45],[16.7,0.09],[16.72,0.03],[16.75,0.2],[16.78,0.14],[16.8,0.07],[16.82,0.28],[16.85,0.045],[16.88,0.11],[16.9,0.5],[16.92,0.18],[16.95,0.08],[16.98,0.24],[16.15,0.5],[16.35,0.6],[16.55,0.4],[16.75,0.55],[16.95,0.35],[16.2,0.025],[16.6,0.022],[16.85,0.028],
[16.03,0.04],[16.07,0.1],[16.11,0.025],[16.16,0.14],[16.19,0.06],[16.23,0.3],[16.27,0.08],[16.31,0.04],[16.34,0.2],[16.37,0.055],[16.41,0.12],[16.44,0.035],[16.47,0.16],[16.51,0.09],[16.54,0.25],[16.57,0.05],[16.61,0.1],[16.64,0.03],[16.67,0.2],[16.71,0.065],[16.74,0.13],[16.77,0.045],[16.81,0.35],[16.84,0.09],[16.87,0.16],[16.91,0.05],[16.94,0.12],[16.97,0.07],
[16.043,0.064],[16.137,0.031],[16.214,0.17],[16.306,0.055],[16.393,0.092],[16.487,0.027],[16.573,0.14],[16.648,0.083],[16.736,0.037],[16.829,0.21],[16.917,0.065],
[17.02,0.15],[17.05,0.05],[17.08,0.3],[17.1,0.09],[17.12,0.2],[17.15,0.04],[17.18,0.55],[17.2,0.12],[17.22,0.25],[17.25,0.07],[17.28,0.4],[17.3,0.16],[17.32,0.1],[17.35,0.3],[17.38,0.05],[17.4,0.2],[17.42,0.65],[17.45,0.13],[17.48,0.35],[17.5,0.08],[17.52,0.22],[17.55,0.5],[17.58,0.15],[17.6,0.28],[17.62,0.1],[17.65,0.42],[17.68,0.18],[17.7,0.06],[17.72,0.3],[17.75,0.75],[17.78,0.2],[17.8,0.12],[17.82,0.38],[17.85,0.25],[17.88,0.09],[17.9,0.6],[17.92,0.17],[17.95,0.32],[17.98,0.11],[17.2,0.8],[17.5,0.85],[17.8,0.9],
[17.03,0.1],[17.07,0.2],[17.11,0.06],[17.14,0.35],[17.19,0.14],[17.23,0.08],[17.27,0.25],[17.31,0.5],[17.36,0.11],[17.41,0.3],[17.44,0.07],[17.49,0.18],[17.53,0.4],[17.57,0.1],[17.61,0.22],[17.66,0.14],[17.69,0.35],[17.74,0.09],[17.79,0.28],[17.83,0.15],[17.87,0.5],[17.91,0.2],[17.96,0.12],
[17.063,0.23],[17.164,0.075],[17.243,0.16],[17.346,0.045],[17.437,0.27],[17.538,0.13],[17.643,0.063],[17.736,0.24],[17.843,0.11],[17.937,0.42],
[18.02,0.2],[18.05,0.45],[18.08,0.12],[18.1,0.3],[18.12,0.7],[18.15,0.18],[18.18,0.25],[18.2,0.08],[18.22,0.4],[18.25,0.15],[18.28,0.55],[18.3,0.22],[18.32,0.1],[18.35,0.33],[18.38,0.6],[18.4,0.19],[18.42,0.27],[18.45,0.8],[18.48,0.14],[18.5,0.38],[18.52,0.23],[18.55,0.5],[18.58,0.3],[18.6,0.17],[18.62,0.65],[18.65,0.26],[18.68,0.4],[18.7,0.2],[18.72,0.34],[18.75,0.25],[18.8,0.45],[18.85,0.3],[18.9,0.22],[18.4,0.05],[18.55,0.07],[18.7,0.09],
[18.03,0.3],[18.07,0.15],[18.11,0.55],[18.14,0.25],[18.19,0.4],[18.23,0.12],[18.27,0.3],[18.31,0.2],[18.36,0.45],[18.41,0.28],[18.46,0.16],[18.51,0.6],[18.56,0.22],[18.61,0.35],[18.66,0.13],[18.71,0.5],[18.76,0.3],[18.82,0.2],[18.88,0.4],[18.95,0.28],[18.2,0.9],[18.35,0.75],[18.75,0.7],
[18.043,0.16],[18.137,0.38],[18.243,0.23],[18.337,0.13],[18.443,0.5],[18.536,0.31],[18.637,0.19],[18.724,0.42],[18.836,0.24],[18.963,0.33]
];

// ---------------- DRAWING ----------------
const W=1266,H=810;
const svg=d3.select('body').append('svg').attr('width',W).attr('height',H);
svg.append('rect').attr('width',W).attr('height',H).attr('fill','#fff');
svg.append('rect').attr('x',0).attr('y',0).attr('width',W).attr('height',6).attr('fill','#232323');
svg.append('rect').attr('x',0).attr('y',0).attr('width',6).attr('height',H).attr('fill','#232323');

const FRAME='#7a7a7a', TXT='#262626', FONT='DejaVu Sans';
const fmt1=d3.format('.1f');
let clipId=0;

function makePanel(p){
  const g=svg.append('g');
  const tk=5.5;
  const id='clip'+(clipId++);
  svg.append('defs').append('clipPath').attr('id',id).append('rect')
    .attr('x',p.x0).attr('y',p.y0).attr('width',p.x1-p.x0).attr('height',p.y1-p.y0);
  const plot=g.append('g').attr('clip-path',`url(#${id})`);
  const ax=g.append('g');
  ax.append('g').attr('transform',`translate(0,${p.y1})`)
    .call(d3.axisBottom(p.xs).tickValues(p.xt).tickFormat(p.xf).tickSizeInner(-tk).tickSizeOuter(0).tickPadding(5));
  ax.append('g').attr('transform',`translate(0,${p.y0})`)
    .call(d3.axisTop(p.xs).tickValues(p.xt).tickFormat('').tickSizeInner(-tk).tickSizeOuter(0));
  const gl=ax.append('g').attr('transform',`translate(${p.x0},0)`)
    .call(d3.axisLeft(p.ys).tickValues(p.yt).tickFormat(p.yf).tickSizeInner(-tk).tickSizeOuter(0).tickPadding(p.ypad||5));
  ax.append('g').attr('transform',`translate(${p.x1},0)`)
    .call(d3.axisRight(p.ys).tickValues(p.yt).tickFormat('').tickSizeInner(-tk).tickSizeOuter(0));
  ax.selectAll('.domain').remove();
  ax.selectAll('.tick line').attr('stroke',FRAME).attr('stroke-width',1);
  ax.selectAll('.tick text').attr('fill',TXT).attr('font-family',FONT).attr('font-size',13.5);
  if(p.log){
    gl.selectAll('.tick text').each(function(d){
      const t=d3.select(this); t.text('10');
      t.append('tspan').attr('dy','-0.55em').attr('font-size',9.5).text(String(Math.round(Math.log10(d))));
    });
    const minors=[];
    for(let e=-3;e<0;e++) for(let m=2;m<10;m++) minors.push(m*Math.pow(10,e));
    ax.append('g').selectAll('line').data(minors).join('line')
      .attr('x1',p.x0).attr('x2',p.x0+3).attr('y1',d=>p.ys(d)).attr('y2',d=>p.ys(d)).attr('stroke',FRAME);
    ax.append('g').selectAll('line').data(minors).join('line')
      .attr('x1',p.x1).attr('x2',p.x1-3).attr('y1',d=>p.ys(d)).attr('y2',d=>p.ys(d)).attr('stroke',FRAME);
  }
  g.append('rect').attr('x',p.x0).attr('y',p.y0).attr('width',p.x1-p.x0).attr('height',p.y1-p.y0)
    .attr('fill','none').attr('stroke',FRAME).attr('stroke-width',1.2);
  g.append('text').attr('x',(p.x0+p.x1)/2).attr('y',p.y1+36).attr('text-anchor','middle')
    .attr('font-family',FONT).attr('font-size',18.5).attr('fill',TXT).text(p.xlab);
  if(p.ylab){
    g.append('text').attr('transform',`translate(${p.ylabX},${(p.y0+p.y1)/2}) rotate(-90)`)
      .attr('text-anchor','middle').attr('font-family',FONT).attr('font-size',18.5).attr('fill',TXT).text(p.ylab);
  }
  return plot;
}

function scatterPanel(box,pts,yScale,yt,yf,log,xlab,ylab,ylabX,zeroLine){
  const xs=d3.scaleLinear().domain([8,20]).range([box[0],box[1]]);
  const ys=yScale.range([box[3],box[2]]);
  const plot=makePanel({x0:box[0],x1:box[1],y0:box[2],y1:box[3],xs,ys,xt:kpTicks,xf:d3.format('d'),yt,yf,log,xlab,ylab,ylabX,ypad:log?14:5});
  plot.append('g').selectAll('circle').data(pts).join('circle')
    .attr('cx',d=>xs(d[0])).attr('cy',d=>ys(d[1])).attr('r',1.9).attr('fill','#000');
  if(zeroLine){
    plot.append('line').attr('x1',box[0]).attr('x2',box[1]).attr('y1',ys(0)).attr('y2',ys(0))
      .attr('stroke','#3a3acf').attr('stroke-width',1.1).attr('stroke-dasharray','5,3.5');
  }
}

function histPanel(box,counts,start,yMax,yt,xlab){
  const xs=d3.scaleLinear().domain([-0.4,0.4]).range([box[0],box[1]]);
  const ys=d3.scaleLinear().domain([0,yMax]).range([box[3],box[2]]);
  const plot=makePanel({x0:box[0],x1:box[1],y0:box[2],y1:box[3],xs,ys,xt:magTicks,xf:fmt1,yt,yf:d3.format('d'),xlab});
  const pts=[[start,0]];
  counts.forEach((c,i)=>{const a=start+i*histBinWidth; pts.push([a,c]); pts.push([a+histBinWidth,c]);});
  pts.push([start+counts.length*histBinWidth,0]);
  plot.append('path').attr('d',d3.line().x(d=>xs(d[0])).y(d=>ys(d[1]))(pts))
    .attr('fill','none').attr('stroke','#5c5ce8').attr('stroke-width',1.3);
  plot.append('line').attr('x1',xs(0)).attr('x2',xs(0)).attr('y1',box[2]).attr('y2',box[3])
    .attr('stroke','#444').attr('stroke-width',1.3).attr('stroke-dasharray','5,3');
}

scatterPanel([83,398,19,345],legacyMagPts,d3.scaleLinear().domain([-0.4,0.4]),magTicks,fmt1,false,'LEGACY Kp (mag)','LEGACY - Input Mag. Offset (mag)',36,true);
histPanel([512,827,19,345],legacyHistCounts,legacyHistStart,120,legacyCountTicks,'LEGACY - Input Mag. Offset (mag)');
scatterPanel([942,1257,19,345],legacyPosPts,d3.scaleLog().domain([0.001,1]),posTicks,null,true,'LEGACY Kp (mag)','LEGACY - Input Pos. Offset (pix)',897,false);
scatterPanel([83,398,442,767],airopaMagPts,d3.scaleLinear().domain([-0.4,0.4]),magTicks,fmt1,false,'AIROPA Kp (mag)','AIROPA - Input Mag. Offset (mag)',36,true);
histPanel([512,827,442,767],airopaHistCounts,airopaHistStart,400,airopaCountTicks,'AIROPA - Input Mag. Offset (mag)');
scatterPanel([942,1257,443,767],airopaPosPts,d3.scaleLog().domain([0.001,1]),posTicks,null,true,'AIROPA Kp (mag)','AIROPA - Input Pos. Offset (pix)',897,false);

// red annotations
svg.append('text').attr('x',147).attr('y',422).attr('font-family','Lato').attr('font-size',43)
  .attr('fill','#ff0000').attr('textLength',305).attr('lengthAdjust','spacingAndGlyphs').text(redLabels[0]);
svg.append('text').attr('x',938).attr('y',422).attr('font-family','Lato').attr('font-size',43)
  .attr('fill','#ff0000').attr('textLength',292).attr('lengthAdjust','spacingAndGlyphs').text(redLabels[2]);
svg.append('text').attr('x',655).attr('y',429).attr('font-family','Noto Sans CJK JP').attr('font-weight',700).attr('font-size',56)
  .attr('fill','#ff0000').attr('textLength',123).attr('lengthAdjust','spacingAndGlyphs').text(redLabels[1]);
svg.append('path').attr('d','M552,335 L606,335 L606,428 L633,428 L579,481 L526,428 L552,428 Z')
  .attr('fill','#ff0000').attr('stroke','#000').attr('stroke-width',2).attr('stroke-linejoin','miter');
</script>
</body></html>
